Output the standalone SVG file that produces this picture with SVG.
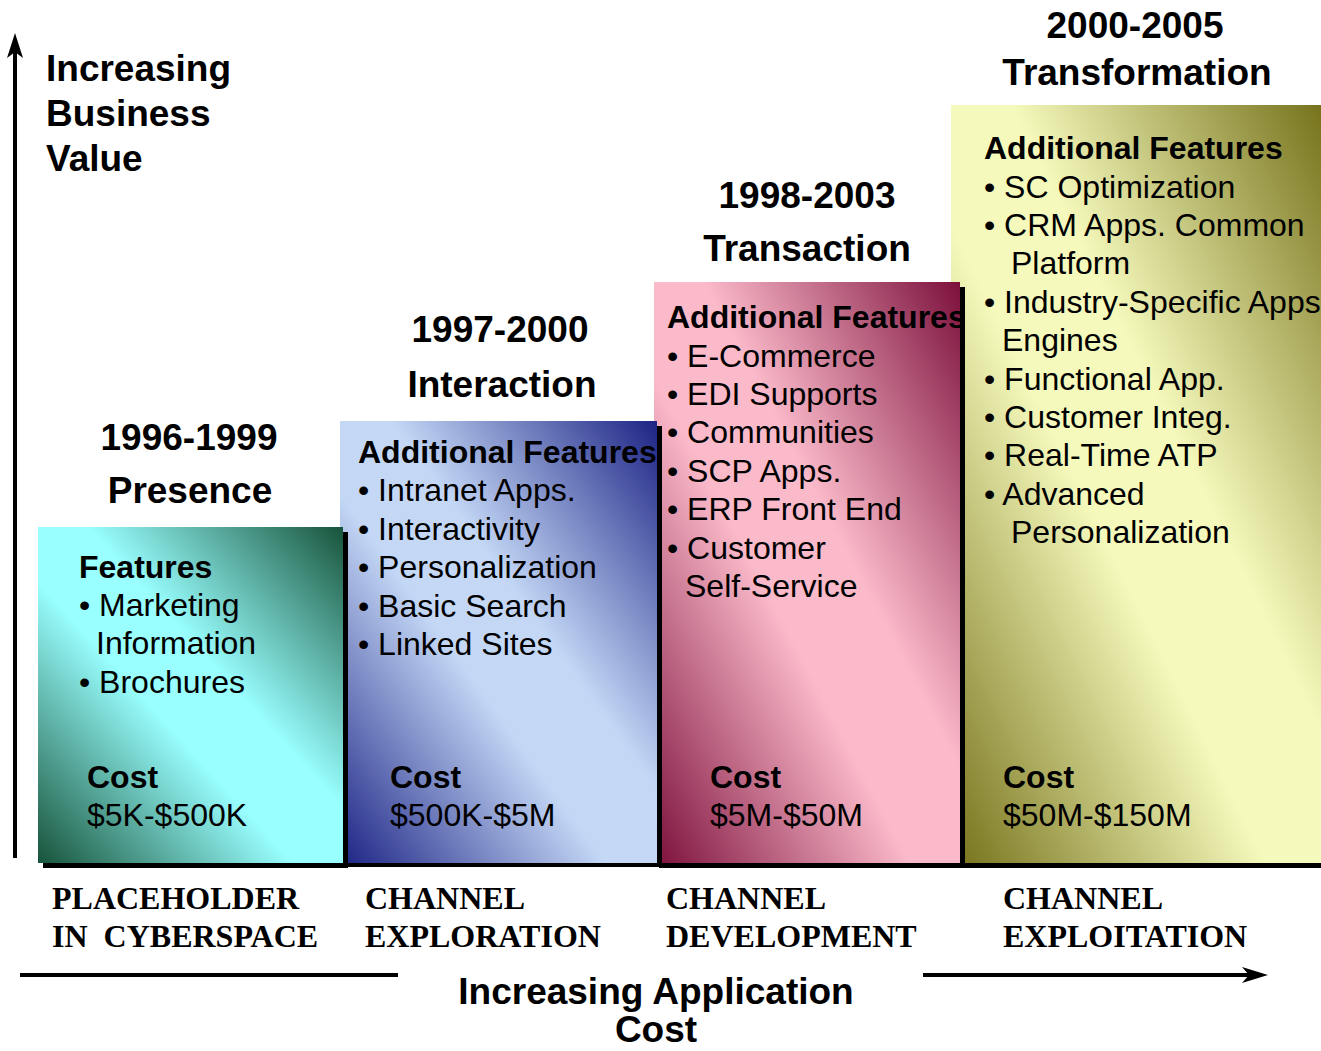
<svg xmlns="http://www.w3.org/2000/svg" width="1321" height="1051" viewBox="0 0 1321 1051">
<style>
.h{font-family:"Liberation Sans",Arial,sans-serif;font-weight:bold;font-size:37px;fill:#000}
.hc{font-family:"Liberation Sans",Arial,sans-serif;font-weight:bold;font-size:37px;fill:#000;text-anchor:middle}
.b{font-family:"Liberation Sans",Arial,sans-serif;font-weight:bold;font-size:32px;fill:#000}
.r{font-family:"Liberation Sans",Arial,sans-serif;font-size:32px;fill:#000}
.s{font-family:"Liberation Serif","Times New Roman",serif;font-weight:bold;font-size:32px;fill:#000}
.sh{fill:#000}
</style>
<defs>
<linearGradient id="gTeal" x1="0" y1="1" x2="1" y2="0">
<stop offset="0" stop-color="#17533a"/><stop offset="0.42" stop-color="#99ffff"/><stop offset="0.58" stop-color="#99ffff"/><stop offset="1" stop-color="#17533a"/>
</linearGradient>
<linearGradient id="gBlue" x1="0" y1="1" x2="1" y2="0">
<stop offset="0" stop-color="#1c2384"/><stop offset="0.42" stop-color="#c4d8f6"/><stop offset="0.58" stop-color="#c4d8f6"/><stop offset="1" stop-color="#1c2384"/>
</linearGradient>
<linearGradient id="gPink" x1="0" y1="1" x2="1" y2="0">
<stop offset="0" stop-color="#7c103c"/><stop offset="0.42" stop-color="#fbbaca"/><stop offset="0.58" stop-color="#fbbaca"/><stop offset="1" stop-color="#7c103c"/>
</linearGradient>
<linearGradient id="gYellow" x1="0" y1="1" x2="1" y2="0">
<stop offset="0" stop-color="#75711a"/><stop offset="0.42" stop-color="#f5f9bb"/><stop offset="0.58" stop-color="#f5f9bb"/><stop offset="1" stop-color="#75711a"/>
</linearGradient>
</defs>
<rect width="1321" height="1051" fill="#fff"/>

<g id="axis-label">
<text class="h" x="46" y="81">Increasing</text>
<text class="h" x="46" y="126">Business</text>
<text class="h" x="46" y="171">Value</text>
</g>

<g id="stage-transformation">
<rect class="sh" x="956" y="110" width="370" height="758"/>
<rect x="951" y="105" width="375" height="758" fill="url(#gYellow)"/>
<text class="hc" x="1135" y="38">2000-2005</text>
<text class="hc" x="1137" y="85">Transformation</text>
<text class="b" x="984" y="159">Additional Features</text>
<text class="r" x="984" y="198">• SC Optimization</text>
<text class="r" x="984" y="236">• CRM Apps. Common</text>
<text class="r" x="1011" y="274">Platform</text>
<text class="r" x="984" y="313">• Industry-Specific Apps</text>
<text class="r" x="1002" y="351">Engines</text>
<text class="r" x="984" y="390">• Functional App.</text>
<text class="r" x="984" y="428">• Customer Integ.</text>
<text class="r" x="984" y="466">• Real-Time ATP</text>
<text class="r" x="984" y="505">• Advanced</text>
<text class="r" x="1011" y="543">Personalization</text>
<text class="b" x="1003" y="788">Cost</text>
<text class="r" x="1003" y="826">$50M-$150M</text>
</g>

<g id="stage-transaction">
<rect class="sh" x="659" y="287" width="306" height="581"/>
<rect x="654" y="282" width="306" height="581" fill="url(#gPink)"/>
<text class="hc" x="807" y="208">1998-2003</text>
<text class="hc" x="807" y="261">Transaction</text>
<text class="b" x="667" y="328">Additional Features</text>
<text class="r" x="667" y="367">• E-Commerce</text>
<text class="r" x="667" y="405">• EDI Supports</text>
<text class="r" x="667" y="443">• Communities</text>
<text class="r" x="667" y="482">• SCP Apps.</text>
<text class="r" x="667" y="520">• ERP Front End</text>
<text class="r" x="667" y="559">• Customer</text>
<text class="r" x="685" y="597">Self-Service</text>
<text class="b" x="710" y="788">Cost</text>
<text class="r" x="710" y="826">$5M-$50M</text>
</g>

<g id="stage-interaction">
<rect class="sh" x="345" y="426" width="317" height="441"/>
<rect x="340" y="421" width="317" height="442" fill="url(#gBlue)"/>
<text class="hc" x="500" y="342">1997-2000</text>
<text class="hc" x="502" y="397">Interaction</text>
<text class="b" x="358" y="463">Additional Features</text>
<text class="r" x="358" y="501">• Intranet Apps.</text>
<text class="r" x="358" y="540">• Interactivity</text>
<text class="r" x="358" y="578">• Personalization</text>
<text class="r" x="358" y="617">• Basic Search</text>
<text class="r" x="358" y="655">• Linked Sites</text>
<text class="b" x="390" y="788">Cost</text>
<text class="r" x="390" y="826">$500K-$5M</text>
</g>

<g id="stage-presence">
<rect class="sh" x="43" y="532" width="305" height="336"/>
<rect x="38" y="527" width="305" height="336" fill="url(#gTeal)"/>
<text class="hc" x="189" y="450">1996-1999</text>
<text class="hc" x="190" y="503">Presence</text>
<text class="b" x="79" y="578">Features</text>
<text class="r" x="79" y="616">• Marketing</text>
<text class="r" x="96" y="654">Information</text>
<text class="r" x="79" y="693">• Brochures</text>
<text class="b" x="87" y="788">Cost</text>
<text class="r" x="87" y="826">$5K-$500K</text>
</g>

<g id="phase-labels">
<text class="s" x="52" y="909">PLACEHOLDER</text>
<text class="s" x="52" y="947" xml:space="preserve">IN  CYBERSPACE</text>
<text class="s" x="365" y="909">CHANNEL</text>
<text class="s" x="365" y="947">EXPLORATION</text>
<text class="s" x="666" y="909">CHANNEL</text>
<text class="s" x="666" y="947">DEVELOPMENT</text>
<text class="s" x="1003" y="909">CHANNEL</text>
<text class="s" x="1003" y="947">EXPLOITATION</text>
</g>

<g id="x-axis-label">
<text class="hc" x="656" y="1004">Increasing Application</text>
<text class="hc" x="656" y="1042">Cost</text>
</g>

<g id="connectors">
<line x1="15" y1="858" x2="15" y2="50" stroke="#000" stroke-width="4"/>
<path d="M15,33 L23,58 L15,52 L7,58 Z" fill="#000"/>
<line x1="20" y1="975" x2="398" y2="975" stroke="#000" stroke-width="4"/>
<line x1="923" y1="975" x2="1255" y2="975" stroke="#000" stroke-width="4"/>
<path d="M1268,975 L1242,967 L1249,975 L1242,983 Z" fill="#000"/>
</g>
</svg>
